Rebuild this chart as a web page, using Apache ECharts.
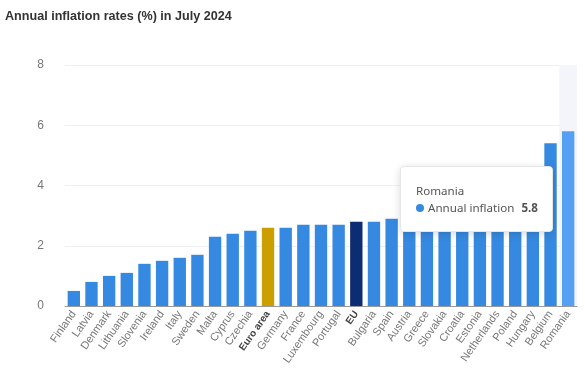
<!DOCTYPE html>
<html><head><meta charset="utf-8">
<script src="https://cdn.jsdelivr.net/npm/echarts@6/dist/echarts.min.js"></script>
<style>html,body{margin:0;padding:0;background:#fff}#c{width:585px;height:373px}</style>
</head><body><div id="c"></div>
<script>
const categories = ['Finland','Latvia','Denmark','Lithuania','Slovenia','Ireland','Italy','Sweden','Malta','Cyprus','Czechia','Euro area','Germany','France','Luxembourg','Portugal','EU','Bulgaria','Spain','Austria','Greece','Slovakia','Croatia','Estonia','Netherlands','Poland','Hungary','Belgium','Romania'];
const values = [0.5,0.8,1.0,1.1,1.4,1.5,1.6,1.7,2.3,2.4,2.5,2.6,2.6,2.7,2.7,2.7,2.8,2.8,2.9,2.9,3.0,3.2,3.5,3.5,3.5,4.0,4.1,5.4,5.8];
const yTicks = [0,2,4,6,8];
const seriesName = 'Annual inflation';
const highlighted = 'Romania';

const chart = echarts.init(document.getElementById('c'), null, {renderer:'canvas'});
function barColor(name){
  if (name === 'Euro area') return '#cc9f00';
  if (name === 'EU') return '#0c2d72';
  if (name === highlighted) return '#55a0f2';
  return '#3689e0';
}
chart.setOption({
  animation:false,
  title:{text:'Annual inflation rates (%) in July 2024',left:0,top:5,textStyle:{fontSize:12.6,fontWeight:'bold',color:'#333',fontFamily:'Liberation Sans, Arial, sans-serif'}},
  grid:{left:65,right:8,top:65,bottom:67},
  tooltip:{trigger:'axis',axisPointer:{type:'shadow',z:0,shadowStyle:{color:'#f3f5fa',opacity:1}},
    alwaysShowContent:true,transitionDuration:0,
    position:[400,166],
    backgroundColor:'#fff',borderColor:'#e6e6e6',borderWidth:1,padding:[15,14,15,15],
    extraCssText:'box-shadow:0 2px 8px rgba(0,0,0,0.15);border-radius:4px;',
    formatter:function(p){const q=p[0];return '<div style="font-family:Noto Sans,sans-serif;font-size:11.6px;color:#555;line-height:17px;white-space:nowrap">'+q.name+'<br><span style="display:inline-block;width:8px;height:8px;border-radius:50%;background:#3689e0;margin-right:4px"></span>'+q.seriesName+'<span style="font-weight:bold;margin-left:7px;color:#555">'+q.value+'</span></div>';}
  },
  xAxis:{type:'category',data:categories,
    axisLine:{lineStyle:{color:'#999'}},axisTick:{alignWithLabel:false,lineStyle:{color:'#999'}},
    axisLabel:{interval:0,rotate:55,fontSize:11,color:'#777',margin:6,fontFamily:'Liberation Sans, Arial, sans-serif',
      formatter:function(v){return (v==='Euro area'||v==='EU')?'{b|'+v+'}':v;},
      rich:{b:{fontWeight:'bold',color:'#444',fontSize:10,fontFamily:'Liberation Sans, Arial, sans-serif'}}}
  },
  yAxis:{type:'value',min:0,max:8,interval:2,
    axisLine:{show:false},axisTick:{show:false},
    axisLabel:{fontSize:12,color:'#777',margin:21,fontFamily:'Liberation Sans, Arial, sans-serif'},
    splitLine:{lineStyle:{color:'#eef0f5'}}
  },
  series:[{name:seriesName,type:'bar',barWidth:'70%',z:2,
    data:values.map((v,i)=>({value:v,itemStyle:{color:barColor(categories[i])}})),
    emphasis:{disabled:true}
  }]
});
chart.dispatchAction({type:'showTip',seriesIndex:0,dataIndex:categories.indexOf(highlighted)});
</script></body></html>
